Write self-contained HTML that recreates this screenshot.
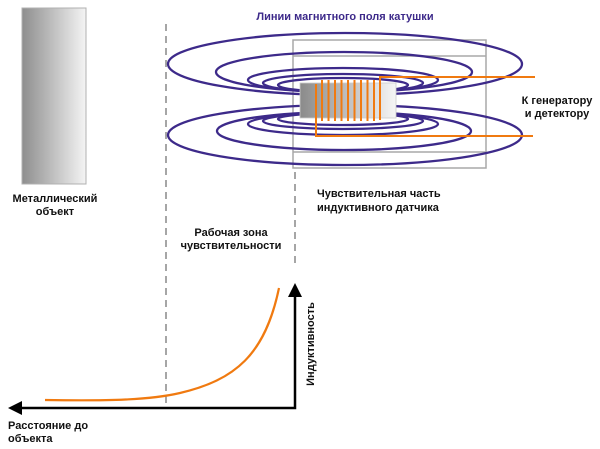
<!DOCTYPE html>
<html><head><meta charset="utf-8"><style>
html,body{margin:0;padding:0;background:#fff;width:600px;height:449px;overflow:hidden}
text{font-family:"Liberation Sans","DejaVu Sans",sans-serif;font-weight:bold;font-size:11px;fill:#111}
</style></head><body>
<svg width="600" height="449" viewBox="0 0 600 449" xmlns="http://www.w3.org/2000/svg">
<defs>
<linearGradient id="g" x1="0" x2="1" y1="0" y2="0"><stop offset="0" stop-color="#8e8e8e"/><stop offset="1" stop-color="#f4f4f4"/></linearGradient>
<linearGradient id="c" x1="0" x2="1" y1="0" y2="0"><stop offset="0" stop-color="#8a8a8a"/><stop offset="1" stop-color="#f6f6f6"/></linearGradient>
</defs>
<rect x="22" y="8" width="64" height="176" fill="url(#g)" stroke="#b0b0b0" stroke-width="1"/>
<text x="55" y="202" text-anchor="middle">Металлический</text>
<text x="55" y="215" text-anchor="middle">объект</text>
<text x="345" y="20" text-anchor="middle" style="fill:#3d2a8a">Линии магнитного поля катушки</text>
<!-- dashed lines -->
<line x1="166" y1="24" x2="166" y2="408" stroke="#777" stroke-width="1.3" stroke-dasharray="7,5"/>
<line x1="295" y1="172" x2="295" y2="268" stroke="#777" stroke-width="1.3" stroke-dasharray="7,5"/>
<!-- gray box -->
<g fill="none" stroke="#a8a8a8" stroke-width="1.5">
<rect x="293" y="40" width="193" height="128"/>
<line x1="293" y1="56" x2="486" y2="56"/>
<line x1="293" y1="152" x2="486" y2="152"/>
</g>
<!-- field lines -->
<g fill="none" stroke="#3d2a8a" stroke-width="2.3">
<ellipse cx="345" cy="64" rx="177" ry="31"/>
<ellipse cx="344" cy="72" rx="128" ry="20"/>
<ellipse cx="343" cy="80" rx="95" ry="12"/>
<ellipse cx="343" cy="83" rx="80" ry="9"/>
<ellipse cx="343" cy="85" rx="65" ry="7"/>
<ellipse cx="345" cy="135" rx="177" ry="30"/>
<ellipse cx="344" cy="131" rx="127" ry="19"/>
<ellipse cx="343" cy="124" rx="95" ry="11"/>
<ellipse cx="343" cy="121" rx="80" ry="8"/>
<ellipse cx="343" cy="119" rx="65" ry="6"/>
</g>
<rect x="300" y="83" width="96" height="35" fill="url(#c)" stroke="#ccc" stroke-width="0.8"/>
<g stroke="#f07a10" stroke-width="2" fill="none">
<line x1="322" y1="80" x2="322" y2="121"/><line x1="328.5" y1="80" x2="328.5" y2="121"/>
<line x1="335" y1="80" x2="335" y2="121"/><line x1="341.5" y1="80" x2="341.5" y2="121"/>
<line x1="348" y1="80" x2="348" y2="121"/><line x1="354.5" y1="80" x2="354.5" y2="121"/>
<line x1="361" y1="80" x2="361" y2="121"/><line x1="367.5" y1="80" x2="367.5" y2="121"/>
<line x1="374" y1="80" x2="374" y2="121"/>
<polyline points="380,120 380,77 535,77"/>
<polyline points="316,84 316,136 533,136"/>
</g>
<text x="557" y="104" text-anchor="middle">К генератору</text>
<text x="557" y="117" text-anchor="middle">и детектору</text>
<text x="317" y="197">Чувствительная часть</text>
<text x="317" y="211">индуктивного датчика</text>
<text x="231" y="236" text-anchor="middle">Рабочая зона</text>
<text x="231" y="249" text-anchor="middle">чувствительности</text>
<!-- axes -->
<path d="M45,400 C110,401 150,400 180,393 C235,380 265,355 279,288" fill="none" stroke="#f07a10" stroke-width="2.2"/>
<polyline points="20,408 295,408 295,296" fill="none" stroke="#000" stroke-width="2.5"/>
<polygon points="8,408 22,401 22,415" fill="#000"/>
<polygon points="295,283 288,297 302,297" fill="#000"/>
<text transform="translate(314,344) rotate(-90)" text-anchor="middle">Индуктивность</text>
<text x="8" y="429">Расстояние до</text>
<text x="8" y="442">объекта</text>
</svg>
</body></html>
